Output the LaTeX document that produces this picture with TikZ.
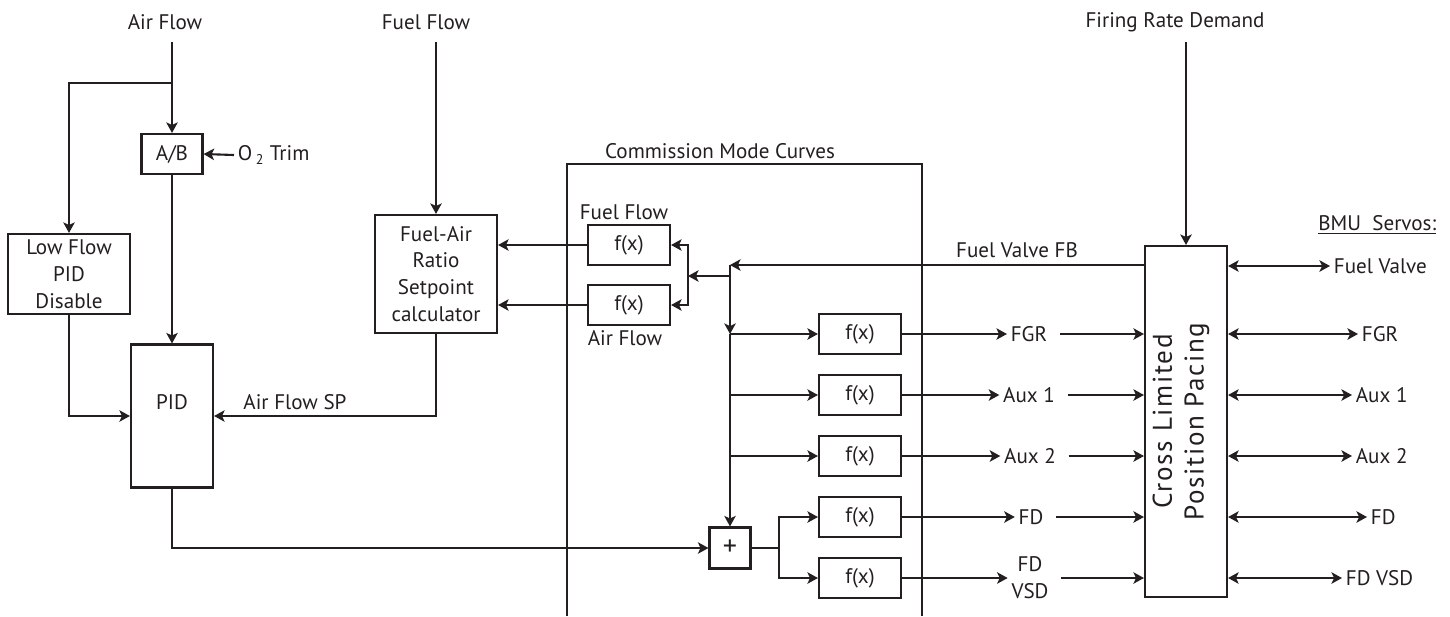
\documentclass[tikz,border=0pt]{standalone}
\usepackage{fontspec}
\setmainfont{PT Sans}
\usetikzlibrary{arrows.meta,positioning,calc}
\definecolor{ink}{HTML}{231F20}
\tikzset{
  ar/.style={-{Stealth[length=6pt,width=6.5pt,inset=1.5pt]},line width=1.2pt,ink},
  dar/.style={{Stealth[length=6pt,width=6.5pt,inset=1.5pt]}-{Stealth[length=6pt,width=6.5pt,inset=1.5pt]},line width=1.2pt,ink},
  ln/.style={line width=1.2pt,ink},
  box/.style={draw=ink,line width=1.2pt,align=center,inner sep=2pt,text=ink},
  fbox/.style={box,minimum width=1.64cm,minimum height=0.8cm},
  txt/.style={text=ink,align=center,inner sep=2pt}
}
\begin{document}
\begin{tikzpicture}[x=0.02cm,y=-0.02cm,font=\fontsize{12}{15.3}\selectfont]
\useasboundingbox (0,0) rectangle (1450,616);

% signals coming in at the top
\node[txt] (airlbl) at (165,22) {Air Flow};
\coordinate (airtop) at (172,42);
\coordinate (airsplit) at (172,83);
\node[txt] (fuellbl) at (426,22) {Fuel Flow};
\coordinate (fueltop) at (436,42);
\node[txt] (frdlbl) at (1175,22) {Firing Rate Demand};
\coordinate (frdtop) at (1186,42);

% air side
\node[box,minimum width=1.22cm,minimum height=0.8cm] (ab) at (172,154) {A/B};
\node[txt,anchor=west] (o2lbl) at (234,155) {O\kern2pt\textsubscript{2} Trim};
\node[box,minimum width=2.44cm,minimum height=1.6cm] (lowpid) at (69,274) {Low Flow\\PID\\Disable};
\node[box,minimum width=1.64cm,minimum height=2.86cm] (pid) at (172,416) {};
\node[txt] (pidlbl) at (172,402) {PID};
\node[box,minimum width=2.44cm,minimum height=2.36cm] (fars) at (436,274) {Fuel-Air\\Ratio\\Setpoint\\calculator};
\node[txt] (splbl) at (295,402) {Air Flow SP};

% commission mode curves
\draw[ln] (567,616) |- (922,164) -- (922,616);
\node[txt] (cmclbl) at (720,151) {Commission Mode Curves};
\node[fbox] (ffx) at (629,245) {f(x)};
\node[txt] (ffxlbl) at (624,212) {Fuel Flow};
\node[fbox] (afx) at (629,305) {f(x)};
\node[txt] (afxlbl) at (625,338) {Air Flow};
\coordinate (brk) at (688,276);
\coordinate (fbtap) at (730,265);
\coordinate (midtap) at (730,276);
\foreach \nm/\yy in {fgr/334,auxa/395,auxb/456,fd/517,fdv/578}
  \node[fbox] (\nm fx) at (860,\yy) {f(x)};
\node[box,minimum width=0.82cm,minimum height=0.82cm,inner sep=0pt,font=\fontsize{16}{16}\selectfont] (sum) at (730,548) {+};
\coordinate (split) at (779,548);

% between the curves and the pacing block
\node[txt] (fblbl) at (1017,250) {Fuel Valve FB};
\node[txt] (fgrlbl) at (1029,334) {FGR};
\node[txt] (auxalbl) at (1029,395) {Aux 1};
\node[txt] (auxblbl) at (1030,456) {Aux 2};
\node[txt] (fdlbl) at (1031,517) {FD};
\node[txt] (fdvlbl) at (1030,578) {FD\\VSD};

% pacing block and servos
\node[box,minimum width=1.64cm,minimum height=7.02cm] (clpp) at (1186,421.5) {};
\node[txt,rotate=90,font=\fontsize{15.4}{18}\selectfont\addfontfeatures{LetterSpace=6}] (clpplbl) at (1181,421.5) {Cross Limited\\Position Pacing};
\node[txt,anchor=east] (bmulbl) at (1440,225) {\underline{BMU\ \ Servos:}};
\node[txt,anchor=west] (fvsrv) at (1330,266) {Fuel Valve};
\node[txt,anchor=west] (fgrsrv) at (1358,334) {FGR};
\node[txt,anchor=west] (auxasrv) at (1352,395) {Aux 1};
\node[txt,anchor=west] (auxbsrv) at (1352,456) {Aux 2};
\node[txt,anchor=west] (fdsrv) at (1367,517) {FD};
\node[txt,anchor=west] (fdvsrv) at (1342,578) {FD VSD};

% connectors
\draw[ln] (airtop) -- (airsplit);
\draw[ar] (airsplit) -- (ab.north);
\draw[ar] (airsplit) -| (lowpid.north);
\draw[ar] (o2lbl.west) -- (ab.east);
\draw[ar] (ab.south) -- (pid.north);
\draw[ar] (lowpid.south) |- (pid.west);
\draw[ar] (fueltop) -- (fars.north);
\draw[ar] (fars.south) |- (pid.east);
\draw[ar] (pid.south) |- (sum.west);
\draw[ar] (ffx.west) -- (ffx.west -| fars.east);
\draw[ar] (afx.west) -- (afx.west -| fars.east);
\draw[ar] (brk) |- (ffx.east);
\draw[ar] (brk) |- (afx.east);
\draw[ar] (midtap) -- (brk);
\draw[ar] (clpp.west |- fbtap) -- (fbtap);
\draw[ar] (fbtap) -- (fbtap |- fgrfx.west);
\draw[ar] (fbtap |- fgrfx.west) -- (sum.north);
\foreach \nm in {fgr,auxa,auxb}
  \draw[ar] (fbtap |- \nm fx.west) -- (\nm fx.west);
\draw[ln] (sum.east) -- (split);
\draw[ar] (split) |- (fdfx.west);
\draw[ar] (split) |- (fdvfx.west);
\foreach \nm in {fgr,auxa,auxb,fd,fdv} {
  \draw[ar] (\nm fx.east) -- (\nm lbl.west);
  \draw[ar] ([xshift=5pt]\nm lbl.east) -- (\nm lbl.east -| clpp.west);
}
\draw[ar] (frdtop) -- (clpp.north);
\foreach \nm in {fv,fgr,auxa,auxb,fd,fdv}
  \draw[dar] (clpp.east |- \nm srv.west) -- (\nm srv.west);
\end{tikzpicture}
\end{document}
